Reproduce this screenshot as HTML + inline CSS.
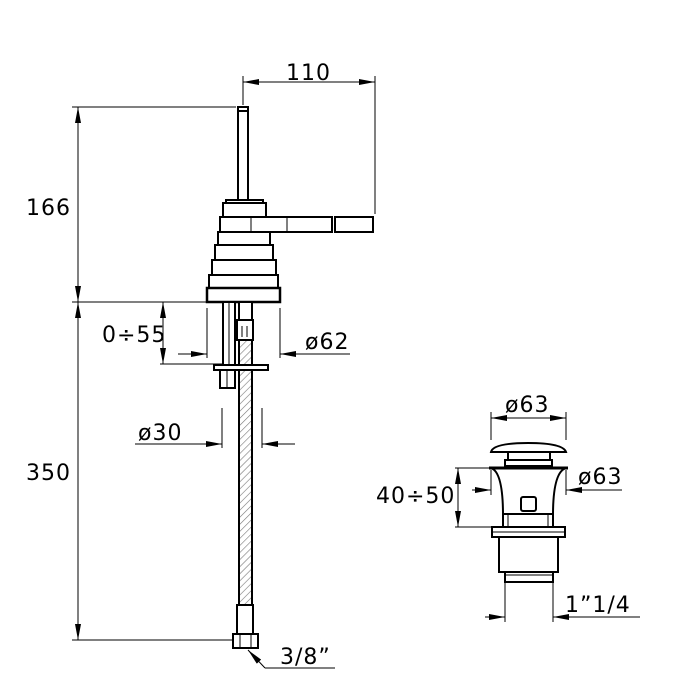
<!DOCTYPE html><html><head><style>body{margin:0;background:#fff}svg{display:block}text{font-family:"DejaVu Sans","Liberation Sans",sans-serif;font-size:22px;fill:#000;letter-spacing:1px}</style></head><body>
<svg width="700" height="700" viewBox="0 0 700 700" xmlns="http://www.w3.org/2000/svg">
<defs>
<pattern id="h" width="5" height="5" patternUnits="userSpaceOnUse" patternTransform="rotate(45)"><line x1="0" y1="0" x2="0" y2="5" stroke="#777" stroke-width="1.2"/></pattern>
<marker id="a" viewBox="0 0 16 6" refX="16" refY="3" markerWidth="16" markerHeight="6" markerUnits="userSpaceOnUse" orient="auto"><path d="M0,0L16,3L0,6z" fill="#000"/></marker>
</defs>
<g stroke="#000" stroke-width="1" fill="none">
<line x1="72" y1="107" x2="236" y2="107"/><line x1="72" y1="302" x2="206" y2="302"/><line x1="72" y1="640" x2="232" y2="640"/>
<line x1="78" y1="200" x2="78" y2="107" marker-end="url(#a)"/><line x1="78" y1="200" x2="78" y2="302" marker-end="url(#a)"/>
<line x1="78" y1="470" x2="78" y2="302" marker-end="url(#a)"/><line x1="78" y1="470" x2="78" y2="640" marker-end="url(#a)"/>
<line x1="243" y1="76" x2="243" y2="105"/><line x1="375" y1="76" x2="375" y2="214"/>
<line x1="310" y1="82" x2="243" y2="82" marker-end="url(#a)"/><line x1="310" y1="82" x2="375" y2="82" marker-end="url(#a)"/>
<line x1="160" y1="364" x2="222" y2="364"/>
<line x1="163" y1="333" x2="163" y2="302" marker-end="url(#a)"/><line x1="163" y1="333" x2="163" y2="364" marker-end="url(#a)"/>
<line x1="207" y1="308" x2="207" y2="358"/><line x1="280" y1="308" x2="280" y2="358"/>
<line x1="178" y1="354" x2="207" y2="354" marker-end="url(#a)"/><line x1="350" y1="354" x2="280" y2="354" marker-end="url(#a)"/>
<line x1="222" y1="408" x2="222" y2="448"/><line x1="262" y1="408" x2="262" y2="448"/>
<line x1="135" y1="444" x2="222" y2="444" marker-end="url(#a)"/><line x1="295" y1="444" x2="262" y2="444" marker-end="url(#a)"/>
<polyline points="335,668 265,668"/><line x1="265" y1="668" x2="248" y2="650" marker-end="url(#a)"/>
</g>
<g stroke="#000" stroke-width="2" fill="#fff">
<rect x="238" y="107" width="10" height="93"/><line x1="238" y1="111" x2="248" y2="111"/>
<rect x="226" y="200" width="37" height="3"/>
<rect x="223" y="203" width="43" height="14"/>
<rect x="220" y="217" width="112" height="15"/><line x1="251" y1="217" x2="251" y2="232" stroke-width="1"/><line x1="287" y1="217" x2="287" y2="232" stroke-width="1"/>
<rect x="335" y="217" width="38" height="15"/>
<rect x="218" y="232" width="52" height="13"/>
<rect x="215" y="245" width="58" height="15"/>
<rect x="212" y="260" width="64" height="15"/>
<rect x="209" y="275" width="69" height="13"/>
<rect x="207" y="288" width="73" height="14" stroke-width="2.5"/>
<rect x="223" y="302" width="12" height="68"/><line x1="229" y1="302" x2="229" y2="370" stroke-width="1"/>
<rect x="239" y="302" width="13" height="18"/>
<rect x="239" y="340" width="13" height="266" fill="url(#h)"/>
<rect x="237" y="320" width="16" height="20"/><line x1="242" y1="326" x2="242" y2="337" stroke-width="1"/><line x1="247" y1="326" x2="247" y2="337" stroke-width="1"/>
<rect x="214" y="365" width="54" height="5"/>
<rect x="220" y="370" width="15" height="18"/><line x1="227" y1="370" x2="227" y2="388" stroke-width="1"/>
<rect x="237" y="605" width="16" height="29"/>
<rect x="233" y="634" width="25" height="14"/><line x1="240" y1="634" x2="240" y2="648" stroke-width="1"/><line x1="251" y1="634" x2="251" y2="648" stroke-width="1"/>
</g>
<g stroke="#000" stroke-width="1" fill="none">
<line x1="491" y1="412" x2="491" y2="440"/><line x1="566" y1="412" x2="566" y2="440"/>
<line x1="528" y1="418" x2="491" y2="418" marker-end="url(#a)"/><line x1="528" y1="418" x2="566" y2="418" marker-end="url(#a)"/>
<line x1="455" y1="468" x2="490" y2="468"/><line x1="455" y1="527" x2="502" y2="527"/>
<line x1="458" y1="497" x2="458" y2="468" marker-end="url(#a)"/><line x1="458" y1="497" x2="458" y2="527" marker-end="url(#a)"/>
<line x1="491" y1="470" x2="491" y2="495"/><line x1="566" y1="470" x2="566" y2="495"/>
<line x1="472" y1="490" x2="491" y2="490" marker-end="url(#a)"/><line x1="622" y1="490" x2="566" y2="490" marker-end="url(#a)"/>
<line x1="505" y1="582" x2="505" y2="622"/><line x1="553" y1="582" x2="553" y2="622"/>
<line x1="485" y1="617" x2="505" y2="617" marker-end="url(#a)"/><line x1="640" y1="617" x2="553" y2="617" marker-end="url(#a)"/>
</g>
<g stroke="#000" stroke-width="2" fill="#fff">
<path d="M491,452 Q493,443 528,443 Q563,443 566,452 Z"/>
<rect x="508" y="452" width="42" height="8"/><rect x="505" y="460" width="47" height="6"/>
<path d="M491,468 L566,468 Q553,472 553,515 L503,515 Q503,472 491,468 Z"/>
<line x1="489" y1="468" x2="568" y2="468" stroke-width="3"/>
<rect x="521" y="497" width="15" height="14" rx="2"/>
<rect x="503" y="514" width="50" height="13"/><line x1="508" y1="514" x2="508" y2="527" stroke-width="1"/><line x1="548" y1="514" x2="548" y2="527" stroke-width="1"/>
<rect x="492" y="527" width="73" height="10"/><line x1="492" y1="532" x2="565" y2="532" stroke-width="1"/>
<rect x="499" y="537" width="59" height="35"/>
<rect x="505" y="572" width="48" height="10"/><line x1="505" y1="575" x2="553" y2="575" stroke-width="1"/>
</g>
<text x="26" y="215">166</text><text x="26" y="480">350</text>
<text x="286" y="80">110</text>
<text x="102" y="342">0÷55</text><text x="305" y="349">ø62</text>
<text x="138" y="440">ø30</text>
<text x="280" y="664">3/8”</text>
<text x="505" y="412">ø63</text><text x="578" y="484">ø63</text>
<text x="376" y="503">40÷50</text><text x="565" y="612">1”1/4</text>
</svg></body></html>
